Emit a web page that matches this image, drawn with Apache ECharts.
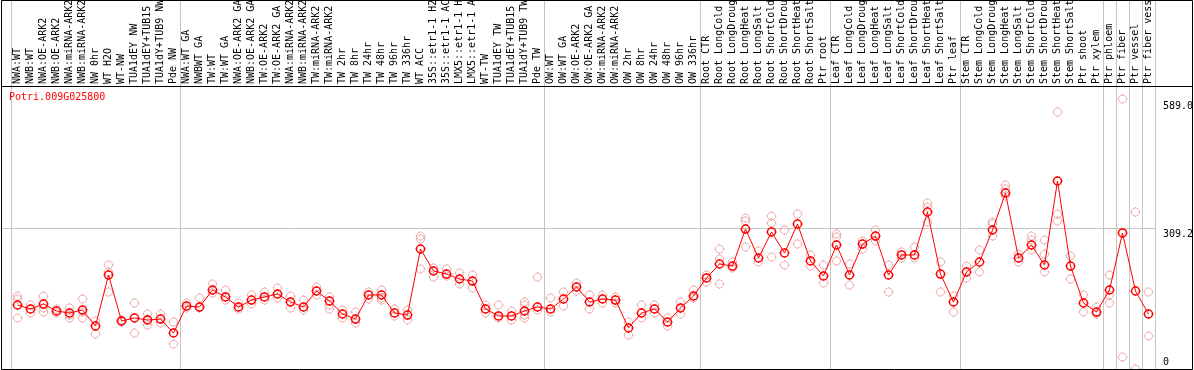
<!DOCTYPE html>
<html><head><meta charset="utf-8">
<script src="https://cdn.jsdelivr.net/npm/echarts@6/dist/echarts.min.js"></script>
<style>html,body{margin:0;padding:0;background:#fff}#c{width:1194px;height:370px}</style>
</head><body><div id="c"></div>
<script>
const geneName = 'Potri.009G025800';
const categories = [
 'NWA:WT','NWB:WT','NWA:OE-ARK2','NWB:OE-ARK2','NWA:miRNA-ARK2','NWB:miRNA-ARK2','NW 0hr','WT H2O','WT-NW','TUA1dEY NW','TUA1dEY+TUB15 NW','TUA1dY+TUB9 NW','Pde NW',
 'NWA:WT GA','NWBWT GA','TW:WT','TW:WT GA','NWA:OE-ARK2 GA','NWB:OE-ARK2 GA','TW:OE-ARK2','TW:OE-ARK2 GA','NWA:miRNA-ARK2','NWB:miRNA-ARK2','TW:miRNA-ARK2','TW:miRNA-ARK2',
 'TW 2hr','TW 8hr','TW 24hr','TW 48hr','TW 96hr','TW 336hr','WT ACC','35S::etr1-1 H2O','35S::etr1-1 ACC','LMX5::etr1-1 H2O','LMX5::etr1-1 ACC','WT-TW','TUA1dEY TW','TUA1dEY+TUB15 TW','TUA1dY+TUB9 TW','Pde TW',
 'OW:WT','OW:WT GA','OW:OE-ARK2','OW:OE-ARK2 GA','OW:miRNA-ARK2','OW:miRNA-ARK2','OW 2hr','OW 8hr','OW 24hr','OW 48hr','OW 96hr','OW 336hr',
 'Root CTR','Root LongCold','Root LongDrought','Root LongHeat','Root LongSalt','Root ShortCold','Root ShortDrought','Root ShortHeat','Root ShortSalt','Ptr root',
 'Leaf CTR','Leaf LongCold','Leaf LongDrought','Leaf LongHeat','Leaf LongSalt','Leaf ShortCold','Leaf ShortDrought','Leaf ShortHeat','Leaf ShortSalt','Ptr leaf',
 'Stem CTR','Stem LongCold','Stem LongDrought','Stem LongHeat','Stem LongSalt','Stem ShortCold','Stem ShortDrought','Stem ShortHeat','Stem ShortSalt','Ptr shoot','Ptr xylem',
 'Ptr phloem','Ptr fiber','Ptr vessel','Ptr fiber vessel'
];
const meanValues = [
 141.3,132.6,143.4,128.2,123.9,130.4,95.6,206.5,106.5,113,108.7,110.8,80.4,
 139.1,136.9,173.9,158.7,136.9,152.1,158.7,165.2,147.8,136.9,171.7,150,
 121.7,110.8,163,163,123.9,119.5,263,215.2,208.6,197.8,193.4,132.6,117.4,117.4,128.2,136.9,
 132.6,154.3,180.4,147.8,154.3,152.1,91.3,123.9,132.6,104.3,134.8,160.8,
 200,230.4,226,306.4,243.4,300,254.3,317.3,237,204.3,
 271.7,206.5,273.8,291.2,206.5,250,250,343.4,208.6,147.8,
 213,234.7,304.3,384.7,243.4,271.7,228.2,410.8,226,145.6,126,
 173.9,297.8,171.7,121.7
];
const replicateValues = [
 [160.8,154.3,113],[141.3,123.9],[160.8,134.8,126],[132.6,123.9],[134.8,119.5,113],[154.3,126,113],[106.5,78.2],[228.2,213,169.5],[108.7,104.3],[145.6,80.4],[121.7,97.8,110.8],[121.7,102.1],[104.3,56.5],
 [145.6,134.8],[156.5,134.8],[187,167.4],[173.9,152.1],[145.6,132.6],[163,143.4],[169.5,152.1],[178.2,156.5],[160.8,134.8],[152.1,130.4],[180.4,163],[158.7,141.3,132.6],
 [130.4,113],[126,102.1],[169.5,154.3],[173.9,156.5,152.1],[132.6,117.4],[130.4,108.7],[291.2,284.7,219.5],[221.7,202],[219.5,204.3],[210.8,187],[206.5,178.2],[141.3,123.9],[141.3,113],[128.2,108.7],[147.8,141.3,119.5,113],[202,130.4],
 [156.5,126],[169.5,139.1],[189,171.7],[163,132.6],[163,145.6],[158.7,145.6],[104.3,76],[141.3,113],[141.3,123.9],[113,95.6],[147.8,121.7],[173.9,156.5],
 [206.5,191.3],[263,241.2,187],[234.7,221.7],[330,323.8,267.3],[258.6,234.7],[334.7,319.5,245.6],[304.3,228.2],[339,273.8],[250,226],[228.2,189],
 [295.6,289,237],[230.4,184.7],[280.4,263],[304.3,280.4],[228.2,169.5],[256.5,243.4],[267.3,243.4],[363,354.3,321.7],[234.7,169.5],[160.8,126],
 [226,200],[260.8,213],[321.7,317.3,291.2],[402,393.4,378.2],[252,234.7],[291.2,282.5,260.8],[282.5,252,213],[560.7,339,323.8],[247.8,197.8],[163,126],[136.9,121.7],
 [206.5,163,145.6],[589,28.3],[343.4,2.2],[169.5,73.9]
];
const yTickValues = [589, 309.2, 0];
const yTickLabels = ['589.0', '309.2', '0'];
const refLineValues = [309.2];
const groupBreaks = [0, 13, 41, 53, 63, 73, 84, 85, 86, 87, 88];

const FONT = 'DejaVu Sans Mono';
const SYM = 'path://M-5,0L-4,0M4,0L5,0M0,-5L0,-4M0,4L0,5' +
  'M4,0C4,2.21,2.21,4,0,4C-2.21,4,-4,2.21,-4,0C-4,-2.21,-2.21,-4,0,-4C2.21,-4,4,-2.21,4,0Z';

const repData = [];
replicateValues.forEach((arr, i) => arr.forEach(v => repData.push([i, v])));

const chart = echarts.init(document.getElementById('c'), null, {renderer: 'canvas'});
chart.setOption({
  animation: false,
  backgroundColor: '#fff',
  grid: {left: 11, right: 39, top: 99, bottom: 0, containLabel: false, outerBoundsMode: 'none'},
  xAxis: {
    type: 'category', data: categories, position: 'top', boundaryGap: true,
    axisLine: {show: false}, axisTick: {show: false}, splitLine: {show: false},
    axisLabel: {rotate: 90, margin: 15, interval: 0, fontSize: 10, fontFamily: FONT, color: '#000', hideOverlap: false}
  },
  yAxis: {type: 'value', min: 0, max: 589, show: false},
  series: [
    {
      type: 'scatter', data: repData, symbol: SYM, symbolSize: 10, symbolKeepAspect: true, z: 2,
      itemStyle: {color: 'rgba(0,0,0,0)', borderColor: '#ee9a9a', borderWidth: 1}
    },
    {
      type: 'line', data: meanValues, symbol: SYM, symbolSize: 10, symbolKeepAspect: true, z: 3,
      lineStyle: {color: '#ff0000', width: 1},
      itemStyle: {color: 'rgba(0,0,0,0)', borderColor: '#ff0000', borderWidth: 1.5}
    }
  ]
});

const c0 = chart.convertToPixel({xAxisIndex: 0}, 0);
const c1 = chart.convertToPixel({xAxisIndex: 0}, 1);
const bw = c1 - c0;
const gridRight = chart.convertToPixel({xAxisIndex: 0}, categories.length - 1) + bw / 2;
const graphics = [];
groupBreaks.forEach(b => {
  const x = Math.round(c0 - bw / 2 + b * bw) + 0.5;
  graphics.push({type: 'line', silent: true, z: 0, shape: {x1: x, y1: 0, x2: x, y2: 370}, style: {stroke: '#c4c4c4', lineWidth: 1}});
});
refLineValues.forEach(v => {
  const y = Math.round(chart.convertToPixel({yAxisIndex: 0}, v)) + 0.5;
  graphics.push({type: 'line', silent: true, z: 0, shape: {x1: 1, y1: y, x2: gridRight, y2: y}, style: {stroke: '#c4c4c4', lineWidth: 1}});
});
yTickValues.forEach((v, i) => {
  let yc = chart.convertToPixel({yAxisIndex: 0}, v) + 7;
  if (yc > 362) yc = 362;
  graphics.push({type: 'text', silent: true, z: 5, x: gridRight + 8, y: yc,
    style: {text: yTickLabels[i], fill: '#000', font: '10px "' + FONT + '"', verticalAlign: 'middle'}});
});
graphics.push({type: 'text', silent: true, z: 5, x: 9, y: 97,
  style: {text: geneName, fill: '#ff0000', font: '10px "' + FONT + '"', verticalAlign: 'middle'}});
graphics.push({type: 'line', silent: true, z: 6, shape: {x1: 1, y1: 86.5, x2: 1193, y2: 86.5}, style: {stroke: '#000', lineWidth: 1}});
graphics.push({type: 'rect', silent: true, z: 6, shape: {x: 1.5, y: 0.5, width: 1191, height: 369}, style: {fill: 'none', stroke: '#000', lineWidth: 1}});
chart.setOption({graphic: graphics});
</script>
</body></html>
